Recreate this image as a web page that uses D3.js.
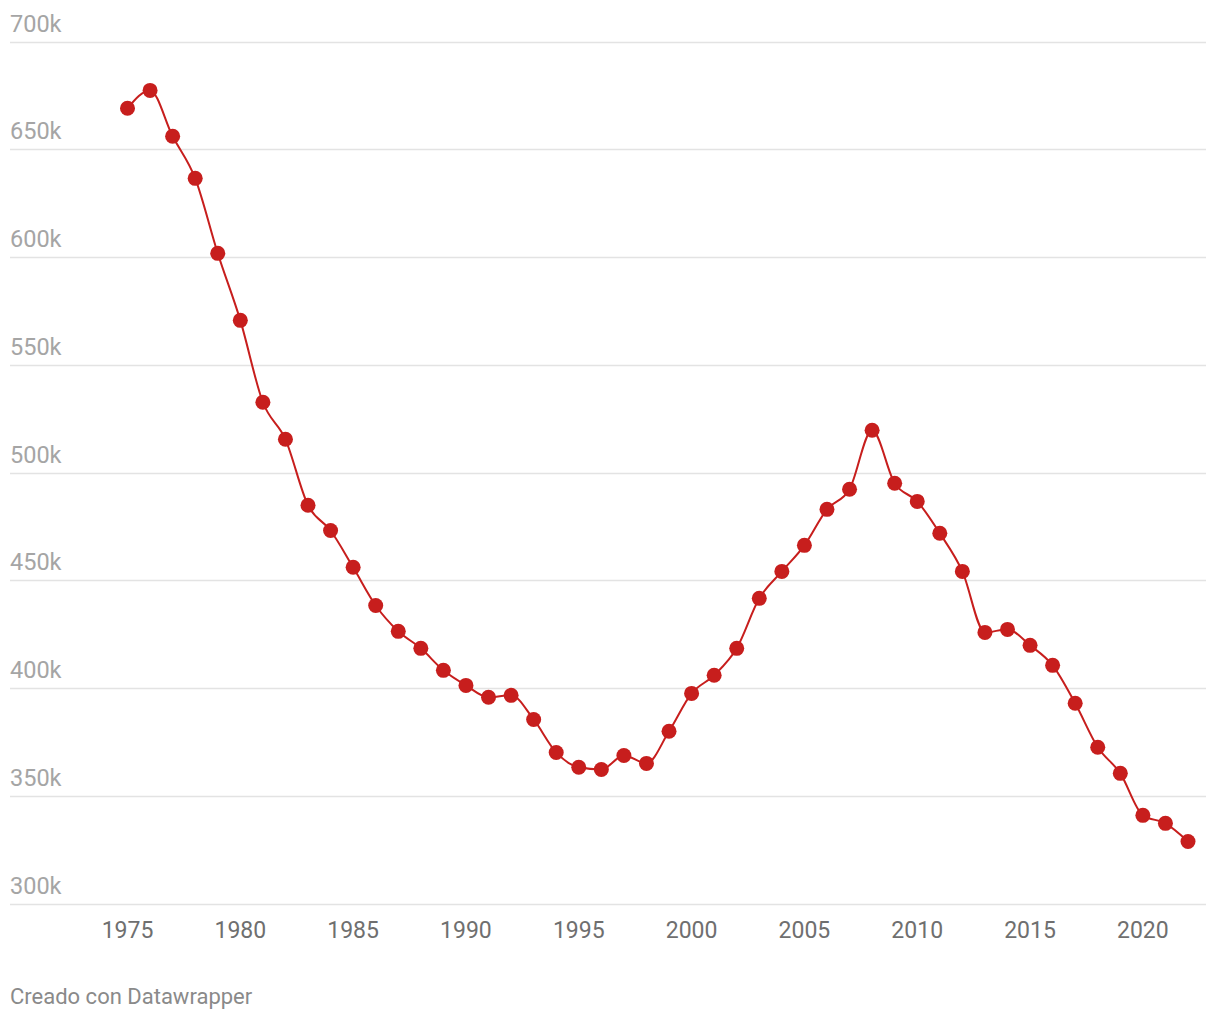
<!DOCTYPE html>
<html>
<head>
<meta charset="utf-8">
<script src="https://cdn.jsdelivr.net/npm/d3@7"></script>
<style>
  body { margin: 0; background: #fff; }
  svg { font-family: Roboto, "Noto Sans", sans-serif; }
</style>
</head>
<body>
<svg width="1220" height="1020"></svg>
<script>
// data
const years = d3.range(1975, 2023);
const values = [
  669.0, 677.3, 656.0, 636.5, 601.7, 570.6, 532.6, 515.4, 484.8, 473.1,
  456.0, 438.3, 426.3, 418.4, 408.2, 401.2, 395.7, 396.6, 385.4, 370.1,
  363.2, 362.2, 368.7, 365.0, 379.9, 397.5, 405.9, 418.4, 441.6, 454.1,
  466.2, 482.9, 492.2, 519.6, 495.0, 486.6, 471.8, 454.1, 425.8, 427.2,
  419.8, 410.5, 392.9, 372.5, 360.4, 340.9, 337.2, 328.8
].map(v => v * 1000);
const yTicks = [300000, 350000, 400000, 450000, 500000, 550000, 600000, 650000, 700000];
const xTicks = [1975, 1980, 1985, 1990, 1995, 2000, 2005, 2010, 2015, 2020];

const data = years.map((yr, i) => ({ year: yr, value: values[i] }));

const svg = d3.select("svg");
const red = "#c71e1d";

const x = d3.scaleLinear().domain([1975, 2022]).range([127.5, 1188]);
const y = d3.scaleLinear().domain([300000, 700000]).range([903.5, 41.5]);

// gridlines + y labels
const grid = svg.append("g");
grid.selectAll("line")
  .data(yTicks)
  .enter()
  .append("line")
  .attr("x1", 10)
  .attr("x2", 1206)
  .attr("y1", d => Math.round(y(d)) + 0.5)
  .attr("y2", d => Math.round(y(d)) + 0.5)
  .style("stroke", "#e3e3e3")
  .style("stroke-width", 1.5);

grid.selectAll("text")
  .data(yTicks)
  .enter()
  .append("text")
  .attr("x", 10)
  .attr("y", d => y(d) - 10)
  .text(d => d / 1000 + "k")
  .style("font-size", "23.5px")
  .style("fill", "#a5a5a5");

// x labels
svg.append("g")
  .selectAll("text")
  .data(xTicks)
  .enter()
  .append("text")
  .attr("x", d => x(d))
  .attr("y", 938)
  .attr("text-anchor", "middle")
  .text(d => d)
  .style("font-size", "23px")
  .style("fill", "#6f6f6f");

// line
const line = d3.line()
  .x(d => x(d.year))
  .y(d => y(d.value))
  .curve(d3.curveMonotoneX);

svg.append("path")
  .datum(data)
  .attr("d", line)
  .style("fill", "none")
  .style("stroke", red)
  .style("stroke-width", 2);

// dots
svg.append("g")
  .selectAll("circle")
  .data(data)
  .enter()
  .append("circle")
  .attr("cx", d => x(d.year))
  .attr("cy", d => y(d.value))
  .attr("r", 7.5)
  .style("fill", red);

// footer
svg.append("text")
  .attr("x", 10)
  .attr("y", 1004)
  .text("Creado con Datawrapper")
  .style("font-size", "22px")
  .style("fill", "#8a8a8a");
</script>
</body>
</html>
